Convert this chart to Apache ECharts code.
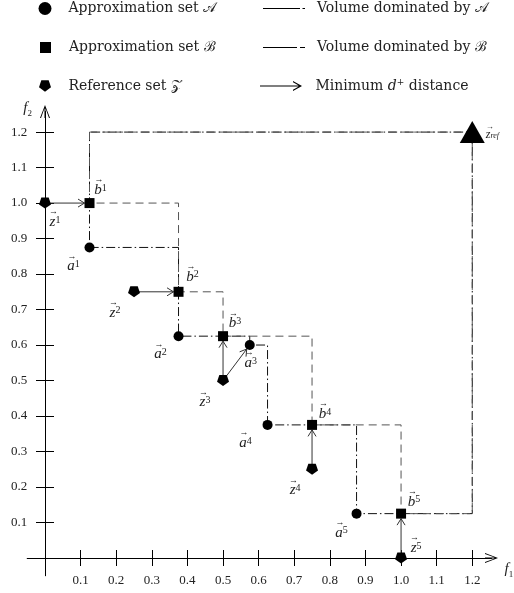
<!DOCTYPE html>
<html><head><meta charset="utf-8">
<script src="https://cdn.jsdelivr.net/npm/echarts@6/dist/echarts.min.js"></script>
<style>html,body{margin:0;padding:0;background:#fff}#c{width:514px;height:593px}</style>
</head><body><div id="c"></div>
<script>
// ---- data ----
const setA_x = [0.125, 0.375, 0.575, 0.625, 0.875];
const setA_y = [0.875, 0.625, 0.6, 0.375, 0.125];
const setB_x = [0.125, 0.375, 0.5, 0.75, 1.0];
const setB_y = [1.0, 0.75, 0.625, 0.375, 0.125];
const setZ_x = [0, 0.25, 0.5, 0.75, 1.0];
const setZ_y = [1.0, 0.75, 0.5, 0.25, 0];
const refPoint = [1.2, 1.2];
// minimum d+ distance arrows: [Z index, target set, target index]
const arrowPairs = [[0, 'B', 0], [1, 'B', 1], [2, 'B', 2], [2, 'A', 2], [3, 'B', 3], [4, 'B', 4]];
const tickValues = [0.1, 0.2, 0.3, 0.4, 0.5, 0.6, 0.7, 0.8, 0.9, 1.0, 1.1, 1.2];
const tickLabels = ['0.1', '0.2', '0.3', '0.4', '0.5', '0.6', '0.7', '0.8', '0.9', '1.0', '1.1', '1.2'];
const superscripts = ['1', '2', '3', '4', '5'];
const seriesNames = ['Approximation set \uD835\uDC9C', 'Approximation set \u212C', 'Reference set \uD835\uDCB5',
  'Volume dominated by \uD835\uDC9C', 'Volume dominated by \u212C', 'Minimum d+ distance'];

// ---- layout (label offsets in px) ----
const labOffA = [[-16, 16], [-18, 15], [1, 15], [-22, 15], [-15, 16]];
const labOffB = [[11, -16], [14, -18], [12, -16], [13, -14], [13, -15]];
const labOffZ = [[10, 16], [-19, 18], [-18, 19], [-17, 18], [15, -13]];

const SERIF = "'Liberation Serif', 'DejaVu Serif', serif";
const LEGFONT = "'DejaVu Serif', serif";
const pentagon = 'path://M2.06,1.25 L7.94,1.25 L9.76,6.85 L5,10.3 L0.24,6.85 Z';
const axisArrow = 'path://M5,0 L10,13 L9,13 L5.5,3.2 L5.5,13 L4.5,13 L4.5,3.2 L1,13 L0,13 Z';
const legendArrow = 'path://M0,4.5 L41,4.5 L41,5.5 L0,5.5 Z M33,0 L42,5 L33,10 L33,8.8 L39.6,5 L33,1.2 Z';
const legendLineA = 'path://M0,0 L37,0 L37,1 L0,1 Z M39.5,0 L42,0 L42,1 L39.5,1 Z';
const legendLineB = 'path://M0,0 L34,0 L34,1 L0,1 Z M37,0 L42,0 L42,1 L37,1 Z';

function staircase(xs, ys, ref) {
  const pts = [[xs[0], ref[1]]];
  for (let i = 0; i < xs.length; i++) {
    pts.push([xs[i], ys[i]]);
    const nx = i < xs.length - 1 ? xs[i + 1] : ref[0];
    pts.push([nx, ys[i]]);
  }
  pts.push([ref[0], ref[1]]);
  pts.push([xs[0], ref[1]]);
  return pts;
}
function pts(xs, ys, letter, offs) {
  return xs.map((x, i) => ({
    value: [x, ys[i]],
    label: { offset: offs[i], formatter: '{ar|\u2192}\n{v|' + letter + '}{s|' + superscripts[i] + '}' }
  }));
}
const labelRich = {
  ar: { fontFamily: SERIF, fontSize: 9, lineHeight: 6, padding: [0, 3, 0, 0], color: '#222' },
  v: { fontFamily: SERIF, fontStyle: 'italic', fontSize: 15, lineHeight: 14, color: '#222' },
  s: { fontFamily: SERIF, fontSize: 10, lineHeight: 8, verticalAlign: 'top', color: '#222' },
  ar2: { fontFamily: SERIF, fontSize: 8, lineHeight: 5, color: '#222' },
  v2: { fontFamily: SERIF, fontStyle: 'italic', fontSize: 12, lineHeight: 11, color: '#222' },
  sub: { fontFamily: SERIF, fontStyle: 'italic', fontSize: 8, lineHeight: 6, verticalAlign: 'bottom', color: '#222' }
};
const ptLabel = { show: true, position: 'inside', rich: labelRich };

const setA = { x: setA_x, y: setA_y }, setB = { x: setB_x, y: setB_y };
const arrowData = arrowPairs.map(([zi, set, ti]) => {
  const s = set === 'A' ? setA : setB;
  return [setZ_x[zi], setZ_y[zi], s.x[ti], s.y[ti]];
});

function legend(name, left, top, w, h, icon, padLeft, extra) {
  return Object.assign({
    data: [{ name: name, icon: icon }],
    left: left, top: top, itemWidth: w, itemHeight: h, padding: 0,
    selectedMode: false, orient: 'vertical',
    itemStyle: { color: '#000', opacity: 1 },
    textStyle: { fontFamily: LEGFONT, fontSize: 14, lineHeight: 16, color: '#222', padding: [0, 0, 0, padLeft] }
  }, extra || {});
}

const chart = echarts.init(document.getElementById('c'), null, { renderer: 'canvas' });
const xMin = -0.05, xMax = 1.254, yMin = -0.05, yMax = 1.258;
function tickFmt(v) { const i = tickValues.findIndex(t => Math.abs(t - v) < 1e-9); return i >= 0 ? tickLabels[i] : ''; }

chart.setOption({
  animation: false,
  backgroundColor: '#fff',
  grid: { left: 27.2, right: 22.5, top: 111.5, bottom: 17.25, containLabel: false, outerBoundsMode: 'none' },
  legend: [
    legend(seriesNames[0], 38.5, 0.5, 13, 13, 'circle', 12),
    legend(seriesNames[1], 40, 39.5, 11, 11, 'rect', 13),
    legend(seriesNames[2], 39, 78, 12, 12, pentagon, 12.5),
    legend(seriesNames[3], 263, 0.5, 42, 10, legendLineA, 7),
    legend(seriesNames[4], 263, 39.5, 42, 10, legendLineB, 7),
    legend(seriesNames[5], 260, 78, 45, 10, legendArrow, 7, {
      formatter: () => 'Minimum {i|d}{p|+} distance',
      textStyle: { fontFamily: LEGFONT, fontSize: 14, lineHeight: 16, color: '#222', padding: [0, 0, 0, 7],
        rich: { i: { fontFamily: LEGFONT, fontStyle: 'italic', fontSize: 14, lineHeight: 16, color: '#222' },
                p: { fontFamily: LEGFONT, fontSize: 9, lineHeight: 9, verticalAlign: 'top', color: '#222' } } }
    })
  ],
  xAxis: [
    { type: 'value', min: xMin, max: xMax, position: 'bottom',
      name: '{i|f}{s|1}', nameLocation: 'end', nameGap: 13,
      nameTextStyle: { align: 'left', verticalAlign: 'top', padding: [1, 0, 0, 0],
        rich: { i: { fontFamily: SERIF, fontStyle: 'italic', fontSize: 15, lineHeight: 20, color: '#222' },
                s: { fontFamily: SERIF, fontSize: 9, lineHeight: 9, verticalAlign: 'bottom', color: '#222' } } },
      axisLine: { onZero: true, onZeroAxisIndex: 0, lineStyle: { color: '#000', width: 1 }, symbol: ['none', axisArrow], symbolSize: [11, 13] },
      axisTick: { show: true, customValues: tickValues, length: 8, lineStyle: { color: '#000', width: 1 } },
      axisLabel: { customValues: tickValues, formatter: tickFmt, margin: -2, fontFamily: SERIF, fontSize: 13, color: '#222' },
      splitLine: { show: false } },
    { type: 'value', min: xMin, max: xMax, position: 'top',
      axisLine: { show: true, onZero: true, onZeroAxisIndex: 0, lineStyle: { opacity: 0 } },
      axisTick: { show: true, customValues: tickValues, length: 8, lineStyle: { color: '#000', width: 1 } },
      axisLabel: { show: false }, splitLine: { show: false } }
  ],
  yAxis: [
    { type: 'value', min: yMin, max: yMax, position: 'left',
      name: '{i|f}{s|2}', nameLocation: 'end', nameGap: 3.5,
      nameTextStyle: { align: 'right', verticalAlign: 'middle', padding: [0, 13, 0, 0],
        rich: { i: { fontFamily: SERIF, fontStyle: 'italic', fontSize: 15, lineHeight: 20, color: '#222' },
                s: { fontFamily: SERIF, fontSize: 9, lineHeight: 9, verticalAlign: 'bottom', color: '#222' } } },
      axisLine: { onZero: true, onZeroAxisIndex: 0, lineStyle: { color: '#000', width: 1 }, symbol: ['none', axisArrow], symbolSize: [11, 13] },
      axisTick: { show: true, customValues: tickValues, length: 9, lineStyle: { color: '#000', width: 1 } },
      axisLabel: { customValues: tickValues, formatter: tickFmt, margin: 0, fontFamily: SERIF, fontSize: 13, color: '#222' },
      splitLine: { show: false } },
    { type: 'value', min: yMin, max: yMax, position: 'right',
      axisLine: { show: true, onZero: true, onZeroAxisIndex: 0, lineStyle: { opacity: 0 } },
      axisTick: { show: true, customValues: tickValues, length: 9, lineStyle: { color: '#000', width: 1 } },
      axisLabel: { show: false }, splitLine: { show: false } }
  ],
  series: [
    { name: seriesNames[3], type: 'line', xAxisIndex: 0, yAxisIndex: 0, z: 1, symbol: 'none', silent: true,
      data: staircase(setA_x, setA_y, refPoint), itemStyle: { color: '#000' },
      lineStyle: { color: '#111', width: 1, type: [9, 3, 1.5, 3] } },
    { name: seriesNames[4], type: 'line', xAxisIndex: 0, yAxisIndex: 0, z: 1, symbol: 'none', silent: true,
      data: staircase(setB_x, setB_y, refPoint), itemStyle: { color: '#000' },
      lineStyle: { color: '#555', width: 1, type: [8, 5] } },
    { name: seriesNames[5], type: 'custom', coordinateSystem: 'cartesian2d', xAxisIndex: 0, yAxisIndex: 0, z: 2, silent: true,
      data: arrowData, encode: { x: [0, 2], y: [1, 3] },
      itemStyle: { color: '#000' },
      renderItem: (params, api) => {
        const p1 = api.coord([api.value(0), api.value(1)]);
        const p2 = api.coord([api.value(2), api.value(3)]);
        const dx = p2[0] - p1[0], dy = p2[1] - p1[1];
        const L = Math.hypot(dx, dy), ux = dx / L, uy = dy / L;
        const tip = [p2[0] - ux * 5, p2[1] - uy * 5];
        const h = 6.5, w = 4;
        const base = [tip[0] - ux * h, tip[1] - uy * h];
        const a = [base[0] - uy * w, base[1] + ux * w], b = [base[0] + uy * w, base[1] - ux * w];
        return { type: 'group', children: [
          { type: 'line', shape: { x1: p1[0], y1: p1[1], x2: tip[0], y2: tip[1] }, style: { stroke: '#333', lineWidth: 1 } },
          { type: 'polyline', shape: { points: [a, tip, b] }, style: { stroke: '#333', lineWidth: 1, fill: null } }
        ] };
      } },
    { name: seriesNames[0], type: 'scatter', xAxisIndex: 0, yAxisIndex: 0, z: 3, symbol: 'circle', symbolSize: 10,
      itemStyle: { color: '#000', opacity: 1 }, label: ptLabel, data: pts(setA_x, setA_y, 'a', labOffA) },
    { name: seriesNames[1], type: 'scatter', xAxisIndex: 0, yAxisIndex: 0, z: 3, symbol: 'rect', symbolSize: 10,
      itemStyle: { color: '#000', opacity: 1 }, label: ptLabel, data: pts(setB_x, setB_y, 'b', labOffB) },
    { name: seriesNames[2], type: 'scatter', xAxisIndex: 0, yAxisIndex: 0, z: 3, symbol: pentagon, symbolSize: [12, 11],
      itemStyle: { color: '#000', opacity: 1 }, label: ptLabel, data: pts(setZ_x, setZ_y, 'z', labOffZ) },
    { name: 'reference point', type: 'scatter', xAxisIndex: 0, yAxisIndex: 0, z: 3, symbol: 'triangle', symbolSize: [25, 22],
      itemStyle: { color: '#000', opacity: 1 },
      label: { show: true, position: 'right', distance: 1, rich: labelRich, formatter: '{ar2|\u2192}\n{v2|z}{sub|ref}' },
      data: [refPoint] }
  ]
});
</script></body></html>
